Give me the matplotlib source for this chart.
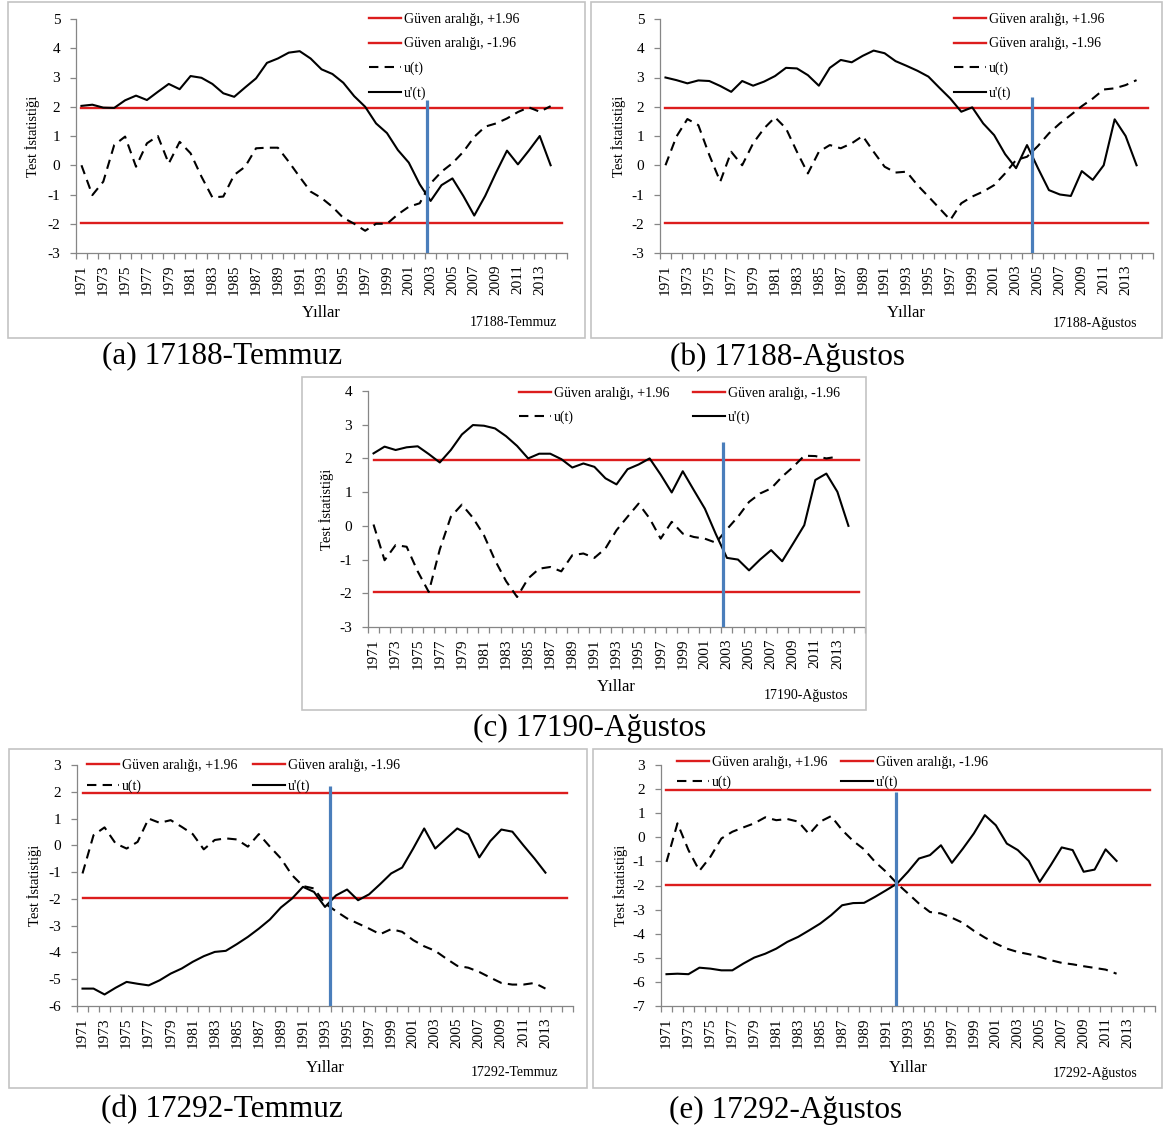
"""
Sequential Mann-Kendall panels: u(t) and u'(t) with the +/-1.96 confidence band,
stations 17188, 17190 and 17292 (July / August).
"""

import matplotlib

matplotlib.use("Agg")
import matplotlib.pyplot as plt
from matplotlib.patches import Rectangle
from matplotlib.ticker import FixedLocator, NullFormatter

W, H = 1166, 1129
RED = "#dc1d1d"
BLUE = "#4a7ebb"
AXIS_GREY = "#868686"
BOX_GREY = "#c3c3c3"

YEARS = list(range(1971, 2016))
TICK_YEARS = list(range(1971, 2014, 2))
CONF = 1.96

# (a) 17188-Temmuz
u_a = [0.0, -1.02, -0.56, 0.69, 0.98, -0.05, 0.75, 1.0, 0.06, 0.8,
       0.41, -0.39, -1.1, -1.07, -0.33, -0.05, 0.58, 0.6, 0.6, 0.12,
       -0.4, -0.9, -1.12, -1.42, -1.8, -2.0, -2.24, -2.0, -2.0, -1.68,
       -1.42, -1.3, -0.62, -0.22, 0.07, 0.46, 0.97, 1.32, 1.43, 1.6,
       1.82, 1.98, 1.83, 2.02]
up_a = [2.03, 2.07, 1.97, 1.96, 2.22, 2.38, 2.23, 2.51, 2.78, 2.6,
        3.05, 2.99, 2.78, 2.46, 2.34, 2.66, 2.97, 3.5, 3.65, 3.85,
        3.9, 3.65, 3.28, 3.12, 2.82, 2.36, 2.0, 1.43, 1.1, 0.52,
        0.09, -0.65, -1.22, -0.68, -0.45, -1.05, -1.72, -1.05, -0.25, 0.5,
        0.03, 0.5, 1.0, 0.0]

# (b) 17188-Agustos
u_b = [0.0, 0.98, 1.58, 1.37, 0.35, -0.56, 0.46, 0.0, 0.75, 1.26,
       1.64, 1.26, 0.46, -0.28, 0.46, 0.69, 0.58, 0.75, 1.0, 0.46,
       -0.05, -0.25, -0.22, -0.68, -1.07, -1.47, -1.87, -1.3, -1.07, -0.9,
       -0.68, -0.28, 0.18, 0.29, 0.66, 1.09, 1.43, 1.72, 2.02, 2.28,
       2.59, 2.63, 2.74, 2.91]
up_b = [3.0, 2.91, 2.8, 2.9, 2.88, 2.71, 2.51, 2.88, 2.72, 2.86,
        3.05, 3.33, 3.31, 3.08, 2.72, 3.33, 3.6, 3.52, 3.74, 3.92,
        3.83, 3.56, 3.4, 3.23, 3.03, 2.65, 2.28, 1.83, 1.98, 1.43,
        1.03, 0.38, -0.1, 0.69, -0.1, -0.85, -1.0, -1.05, -0.2, -0.5,
        0.0, 1.57, 1.0, 0.0]

# (c) 17190-Agustos
u_c = [0.04, -1.02, -0.57, -0.62, -1.35, -1.96, -0.7, 0.27, 0.63, 0.24,
       -0.28, -1.02, -1.64, -2.11, -1.56, -1.27, -1.22, -1.35, -0.87, -0.82,
       -0.95, -0.67, -0.13, 0.27, 0.66, 0.22, -0.38, 0.12, -0.23, -0.33,
       -0.38, -0.5, -0.1, 0.27, 0.71, 0.96, 1.11, 1.46, 1.75, 2.08,
       2.07, 2.0, 2.05]
up_c = [2.15, 2.35, 2.25, 2.33, 2.36, 2.13, 1.88, 2.25, 2.71, 2.99,
        2.97, 2.89, 2.66, 2.37, 2.0, 2.14, 2.14, 1.98, 1.73, 1.85,
        1.75, 1.41, 1.23, 1.68, 1.82, 2.0, 1.52, 0.99, 1.62, 1.06,
        0.51, -0.25, -0.95, -1.0, -1.32, -1.0, -0.72, -1.05, -0.52, 0.02,
        1.36, 1.55, 1.01, 0.0]

# (d) 17292-Temmuz
u_d = [-1.05, 0.38, 0.67, 0.07, -0.12, 0.13, 1.0, 0.84, 0.94, 0.69,
       0.42, -0.15, 0.2, 0.26, 0.22, -0.05, 0.42, -0.05, -0.49, -1.11,
       -1.52, -1.61, -2.17, -2.46, -2.73, -2.92, -3.11, -3.32, -3.13, -3.23,
       -3.54, -3.77, -3.94, -4.23, -4.5, -4.57, -4.73, -4.94, -5.14, -5.2,
       -5.2, -5.14, -5.35]
up_d = [-5.35, -5.35, -5.57, -5.32, -5.1, -5.17, -5.23, -5.04, -4.79, -4.6,
        -4.35, -4.14, -3.98, -3.94, -3.69, -3.42, -3.11, -2.77, -2.32, -1.99,
        -1.55, -1.74, -2.3, -1.87, -1.65, -2.05, -1.83, -1.45, -1.05, -0.83,
        -0.12, 0.63, -0.12, 0.26, 0.63, 0.41, -0.45, 0.16, 0.59, 0.51,
        0.0, -0.49, -1.02]

# (e) 17292-Agustos
u_e = [-1.02, 0.58, -0.53, -1.39, -0.81, -0.05, 0.23, 0.41, 0.58, 0.83,
       0.71, 0.76, 0.65, 0.13, 0.65, 0.88, 0.3, -0.15, -0.5, -1.02,
       -1.43, -1.92, -2.33, -2.75, -3.1, -3.16, -3.34, -3.55, -3.88, -4.16,
       -4.41, -4.62, -4.76, -4.85, -4.96, -5.1, -5.21, -5.27, -5.35, -5.42,
       -5.49, -5.66]
up_e = [-5.68, -5.66, -5.68, -5.41, -5.45, -5.52, -5.52, -5.24, -4.99, -4.83,
        -4.62, -4.34, -4.13, -3.86, -3.58, -3.23, -2.82, -2.73, -2.72, -2.47,
        -2.2, -1.92, -1.43, -0.88, -0.74, -0.33, -1.06, -0.47, 0.16, 0.92,
        0.5, -0.26, -0.53, -0.98, -1.85, -1.16, -0.42, -0.53, -1.43, -1.34,
        -0.5, -0.98]

# blue change-point marker: year position and top value
change_year = {"a": 2002.7, "b": 2004.5, "c": 2002.6, "d": 1993.45, "e": 1991.9}
change_top = {"a": 2.23, "b": 2.33, "c": 2.5, "d": 2.23, "e": 1.89}

y_limits = {"a": (-3, 5), "b": (-3, 5), "c": (-3, 4), "d": (-6, 3), "e": (-7, 3)}
stations = {"a": "17188-Temmuz", "b": "17188-Ağustos", "c": "17190-Ağustos",
            "d": "17292-Temmuz", "e": "17292-Ağustos"}

LABEL_PLUS = "Güven aralığı, +1.96"
LABEL_MINUS = "Güven aralığı, -1.96"

# layout, all in pixels of the 1166x1129 canvas
AXES_PX = {  # left, top, right, bottom of the plot area
    "a": (76, 19, 567, 253),
    "b": (660, 19, 1153, 253),
    "c": (368, 391, 865, 627),
    "d": (77, 765, 573, 1006),
    "e": (661, 765, 1155, 1006),
}
BOX_PX = {
    "a": (8, 2, 585, 338),
    "b": (591, 2, 1162, 338),
    "c": (302, 377, 866, 710),
    "d": (9, 749, 587, 1088),
    "e": (593, 749, 1162, 1088),
}
YLABEL_X = {"a": 33, "b": 618, "c": 327, "d": 35, "e": 620}
XLABEL_Y = {"a": 313, "b": 313, "c": 687, "d": 1068, "e": 1068}
STATION_XY = {"a": (557, 323), "b": (1137, 323), "c": (848, 696),
              "d": (558, 1073), "e": (1137, 1073)}
CAPTION_XY = {"a": (222, 356), "b": (787, 357), "c": (590, 728),
              "d": (222, 1110), "e": (786, 1110)}
# legend: ncol, left x, top y, labelspacing, columnspacing
LEGEND = {
    "a": (1, 369, 13, 0.82, 0.0),
    "b": (1, 954, 13, 0.82, 0.0),
    "c": (2, 519, 387, 0.78, 1.75),
    "d": (2, 87, 759, 0.52, 1.15),
    "e": (2, 677, 756, 0.50, 1.0),
}


def fx(x):
    return x / W


def fy(y):
    return 1 - y / H


def draw_panel(fig, key, u, up):
    l, t, r, b = AXES_PX[key]
    ax = fig.add_axes([fx(l), fy(b), (r - l) / W, (b - t) / H])
    lo, hi = y_limits[key]

    ax.plot(YEARS, [CONF] * len(YEARS), color=RED, lw=1.7, label=LABEL_PLUS)
    ax.plot(YEARS, [-CONF] * len(YEARS), color=RED, lw=1.7, label=LABEL_MINUS)
    ax.plot(YEARS[:len(u)], u, color="black", lw=1.5,
            linestyle=(0, (4.5, 3.0)), label="u(t)")
    ax.plot(YEARS[:len(up)], up, color="black", lw=1.5, label="u'(t)")
    ax.plot([change_year[key]] * 2, [lo, change_top[key]], color=BLUE, lw=2.3,
            solid_capstyle="butt", zorder=4)

    ax.set_xlim(1970.5, 2015.5)
    ax.set_ylim(lo, hi)
    ax.set_yticks(range(lo, hi + 1))

    ax.xaxis.set_major_locator(FixedLocator(TICK_YEARS))
    ax.set_xticklabels([str(y) for y in TICK_YEARS], rotation=90)
    ax.xaxis.set_minor_locator(FixedLocator([1970.5 + i for i in range(46)]))
    ax.xaxis.set_minor_formatter(NullFormatter())
    ax.tick_params(axis="x", which="major", length=0, pad=8, labelsize=11)
    ax.tick_params(axis="x", which="minor", length=4, width=0.9,
                   color=AXIS_GREY, direction="out")
    ax.tick_params(axis="y", length=4.3, width=0.9, color=AXIS_GREY,
                   direction="out", pad=7, labelsize=11)

    for side in ("top", "right"):
        ax.spines[side].set_visible(False)
    for side in ("left", "bottom"):
        ax.spines[side].set_color(AXIS_GREY)
        ax.spines[side].set_linewidth(0.9)

    handles, labels = ax.get_legend_handles_labels()
    ncol, lx, ly, lsp, csp = LEGEND[key]
    if ncol == 2:
        order = [0, 2, 1, 3]
        handles = [handles[i] for i in order]
        labels = [labels[i] for i in order]
    ax.legend(handles, labels, ncol=ncol, loc="upper left",
              bbox_to_anchor=(fx(lx), fy(ly)), bbox_transform=fig.transFigure,
              frameon=False, borderpad=0, borderaxespad=0, fontsize=10,
              handlelength=2.3, handletextpad=0.2, labelspacing=lsp,
              columnspacing=csp)

    ymid = (t + b) / 2
    xmid = (l + r) / 2
    fig.text(fx(YLABEL_X[key]), fy(ymid), "Test İstatistiği", rotation=90,
             ha="center", va="center", fontsize=10.5)
    fig.text(fx(xmid), fy(XLABEL_Y[key]), "Yıllar", ha="center", va="center",
             fontsize=12)
    sx, sy = STATION_XY[key]
    fig.text(fx(sx), fy(sy), stations[key], ha="right", va="center", fontsize=10)
    cx, cy = CAPTION_XY[key]
    fig.text(fx(cx), fy(cy), f"({key}) {stations[key]}", ha="center",
             va="center", fontsize=22.5)

    bl, bt, br, bb = BOX_PX[key]
    fig.patches.append(Rectangle((fx(bl), fy(bb)), (br - bl) / W, (bb - bt) / H,
                                 transform=fig.transFigure, fill=False,
                                 edgecolor=BOX_GREY, linewidth=1.2))
    return ax


def run():
    plt.rcParams["font.family"] = ["Liberation Serif", "DejaVu Serif"]
    plt.rcParams["axes.unicode_minus"] = False
    fig = plt.figure(figsize=(W / 100, H / 100), dpi=100)
    series = {"a": (u_a, up_a), "b": (u_b, up_b), "c": (u_c, up_c),
              "d": (u_d, up_d), "e": (u_e, up_e)}
    for key, (u, up) in series.items():
        draw_panel(fig, key, u, up)
    fig.savefig("out.png", dpi=100)
    plt.close(fig)


if __name__ == "__main__":
    run()
